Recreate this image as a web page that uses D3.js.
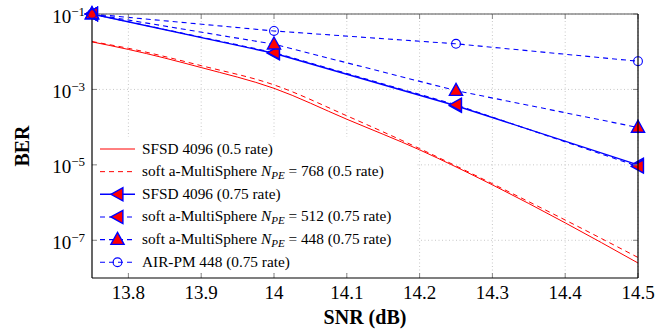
<!DOCTYPE html>
<html>
<head>
<meta charset="utf-8">
<script src="https://cdn.jsdelivr.net/npm/d3@7"></script>
<style>
  body { margin: 0; background: #fff; }
</style>
</head>
<body>
<div id="chart"></div>
<script>
// Data
var snrFine = [13.75, 13.8, 13.9, 14.0, 14.1, 14.2, 14.3, 14.4, 14.5];
var berSfsd05 = [1.82e-2, 1.15e-2, 3.8e-3, 1.07e-3, 1.62e-4, 2.5e-5, 2.95e-6, 2.9e-7, 2.5e-8];
var berAms768 = [1.86e-2, 1.23e-2, 4.27e-3, 1.32e-3, 2.0e-4, 2.7e-5, 3.16e-6, 3.45e-7, 3.5e-8];

var snrCoarse = [13.75, 14.0, 14.25, 14.5];
var berSfsd075 = [0.1, 9.1e-3, 3.7e-4, 1.0e-5];
var berAms512 = [0.1, 9.5e-3, 3.9e-4, 9.1e-6];
var berAms448 = [0.1, 1.58e-2, 9.3e-4, 9.8e-5];
var berAirpm = [0.1, 3.55e-2, 1.62e-2, 5.6e-3];

var xTicks = [13.8, 13.9, 14, 14.1, 14.2, 14.3, 14.4, 14.5];
var yTickExp = [-1, -3, -5, -7];

var red = "#ff0000", blue = "#0000ff";
var serif = "Liberation Serif";

var W = 669, H = 332;
var box = { left: 92, right: 638, top: 14, bottom: 278 };

var svg = d3.select("#chart").append("svg")
    .attr("width", W)
    .attr("height", H);

var x = d3.scaleLinear().domain([13.75, 14.5]).range([box.left, box.right]);
var y = d3.scaleLog().domain([1e-8, 1e-1]).range([box.bottom, box.top]);

// grid
svg.append("g").selectAll("line").data(xTicks).enter().append("line")
    .attr("x1", function(d) { return x(d); }).attr("x2", function(d) { return x(d); })
    .attr("y1", box.top).attr("y2", box.bottom)
    .attr("stroke", "#c8c8c8").attr("stroke-dasharray", "1,2.5");
svg.append("g").selectAll("line").data(yTickExp).enter().append("line")
    .attr("x1", box.left).attr("x2", box.right)
    .attr("y1", function(d) { return y(Math.pow(10, d)); })
    .attr("y2", function(d) { return y(Math.pow(10, d)); })
    .attr("stroke", "#c8c8c8").attr("stroke-dasharray", "1,2.5");

// legend background (hides grid)
svg.append("rect")
    .attr("x", 96).attr("y", 137).attr("width", 320).attr("height", 136)
    .attr("fill", "#fff");

// series
function series(xs, ys) {
    return xs.map(function(d, i) { return [d, ys[i]]; });
}
var line = d3.line()
    .x(function(d) { return x(d[0]); })
    .y(function(d) { return y(d[1]); });
var smooth = d3.line()
    .x(function(d) { return x(d[0]); })
    .y(function(d) { return y(d[1]); })
    .curve(d3.curveMonotoneX);

var plot = svg.append("g");

function triLeft(s) {
    return "M" + (-s * 0.55) + ",0L" + (s * 0.45) + "," + (-s * 0.55) + "L" + (s * 0.45) + "," + (s * 0.55) + "Z";
}
function triUp(s) {
    return "M0," + (-s * 0.6) + "L" + (s * 0.55) + "," + (s * 0.4) + "L" + (-s * 0.55) + "," + (s * 0.4) + "Z";
}

var seriesList = [
    { data: series(snrFine, berSfsd05), color: red, width: 1, dash: null, smooth: true, marker: null },
    { data: series(snrFine, berAms768), color: red, width: 1, dash: "5,4", smooth: true, marker: null },
    { data: series(snrCoarse, berSfsd075), color: blue, width: 1.4, dash: null, marker: "left" },
    { data: series(snrCoarse, berAms512), color: blue, width: 1.1, dash: "5,4", marker: "left" },
    { data: series(snrCoarse, berAms448), color: blue, width: 1.1, dash: "5,4", marker: "up" },
    { data: series(snrCoarse, berAirpm), color: blue, width: 1.1, dash: "5,4", marker: "circle" }
];

function drawMarker(g, type, cx, cy) {
    if (type === "left") {
        g.append("path").attr("d", triLeft(12)).attr("transform", "translate(" + cx + "," + cy + ")")
            .attr("fill", red).attr("stroke", blue).attr("stroke-width", 1.4);
    } else if (type === "up") {
        g.append("path").attr("d", triUp(12)).attr("transform", "translate(" + cx + "," + cy + ")")
            .attr("fill", red).attr("stroke", blue).attr("stroke-width", 1.4);
    } else if (type === "circle") {
        g.append("circle").attr("cx", cx).attr("cy", cy).attr("r", 4.4)
            .attr("fill", "none").attr("stroke", blue).attr("stroke-width", 1.1);
    }
}

seriesList.forEach(function(s) {
    plot.append("path")
        .attr("d", (s.smooth ? smooth : line)(s.data))
        .attr("fill", "none")
        .attr("stroke", s.color)
        .attr("stroke-width", s.width)
        .attr("stroke-dasharray", s.dash);
});
seriesList.forEach(function(s) {
    if (!s.marker) return;
    s.data.forEach(function(d) { drawMarker(plot, s.marker, x(d[0]), y(d[1])); });
});

// tick marks (inward, all four sides)
var ticks = svg.append("g").attr("stroke", "#888").attr("stroke-width", 1);
xTicks.forEach(function(t) {
    ticks.append("line").attr("x1", x(t)).attr("x2", x(t)).attr("y1", box.bottom).attr("y2", box.bottom - 5);
    ticks.append("line").attr("x1", x(t)).attr("x2", x(t)).attr("y1", box.top).attr("y2", box.top + 5);
});
yTickExp.forEach(function(e) {
    var yy = y(Math.pow(10, e));
    ticks.append("line").attr("x1", box.left).attr("x2", box.left + 5).attr("y1", yy).attr("y2", yy);
    ticks.append("line").attr("x1", box.right).attr("x2", box.right - 5).attr("y1", yy).attr("y2", yy);
});

// frame
svg.append("line").attr("x1", box.left).attr("x2", box.right).attr("y1", box.top).attr("y2", box.top)
    .attr("stroke", "#555").attr("stroke-width", 1.2);
svg.append("line").attr("x1", box.left).attr("x2", box.left).attr("y1", box.top).attr("y2", box.bottom)
    .attr("stroke", "#000").attr("stroke-width", 1.2);
svg.append("line").attr("x1", box.right).attr("x2", box.right).attr("y1", box.top).attr("y2", box.bottom)
    .attr("stroke", "#000").attr("stroke-width", 1.2);
svg.append("line").attr("x1", box.left).attr("x2", box.right).attr("y1", box.bottom).attr("y2", box.bottom)
    .attr("stroke", "#000").attr("stroke-width", 1.2);

// re-draw top-left markers above frame
seriesList.forEach(function(s) {
    if (!s.marker) return;
    var d = s.data[0];
    drawMarker(svg, s.marker, x(d[0]), y(d[1]));
});

// x tick labels
svg.append("g").selectAll("text").data(xTicks).enter().append("text")
    .attr("x", function(d) { return x(d); })
    .attr("y", 299)
    .attr("text-anchor", "middle")
    .style("font-family", serif)
    .style("font-size", "19px")
    .text(function(d) { return d3.format("")(d); });

// y tick labels 10^e
yTickExp.forEach(function(e) {
    var yy = y(Math.pow(10, e));
    var t = svg.append("text")
        .attr("x", 85)
        .attr("y", yy + 8.5)
        .attr("text-anchor", "end")
        .style("font-family", serif)
        .style("font-size", "19px");
    t.append("tspan").text("10");
    t.append("tspan").attr("dy", -7).style("font-size", "13px").text("\u2212" + Math.abs(e));
});

// axis titles
svg.append("text")
    .attr("x", 365).attr("y", 324)
    .attr("text-anchor", "middle")
    .style("font-family", serif)
    .style("font-size", "20px").style("font-weight", "bold")
    .text("SNR (dB)");
svg.append("text")
    .attr("transform", "translate(29,146) rotate(-90)")
    .attr("text-anchor", "middle")
    .style("font-family", serif)
    .style("font-size", "20px").style("font-weight", "bold")
    .text("BER");

// legend
var legendItems = [
    { s: seriesList[0], label: ["SFSD 4096 (0.5 rate)"] },
    { s: seriesList[1], label: ["soft a-MultiSphere ", "768 (0.5 rate)"] },
    { s: seriesList[2], label: ["SFSD 4096 (0.75 rate)"] },
    { s: seriesList[3], label: ["soft a-MultiSphere ", "512 (0.75 rate)"] },
    { s: seriesList[4], label: ["soft a-MultiSphere ", "448 (0.75 rate)"] },
    { s: seriesList[5], label: ["AIR-PM 448 (0.75 rate)"] }
];
var lg = svg.append("g");
legendItems.forEach(function(item, i) {
    var cy = 149 + i * 22.65;
    var s = item.s;
    lg.append("line")
        .attr("x1", 100).attr("x2", 135).attr("y1", cy).attr("y2", cy)
        .attr("stroke", s.color).attr("stroke-width", s.width)
        .attr("stroke-dasharray", s.dash);
    if (s.marker) drawMarker(lg, s.marker, 117.5, cy);
    var t = lg.append("text")
        .attr("x", 142).attr("y", cy + 4.5)
        .style("font-family", serif)
        .style("font-size", "15.3px");
    t.append("tspan").text(item.label[0]);
    if (item.label.length > 1) {
        t.append("tspan").style("font-style", "italic").text("N");
        t.append("tspan").style("font-style", "italic").style("font-size", "11px").attr("dy", 3).text("PE");
        t.append("tspan").attr("dy", -3).text(" = " + item.label[1]);
    }
});
</script>
</body>
</html>
